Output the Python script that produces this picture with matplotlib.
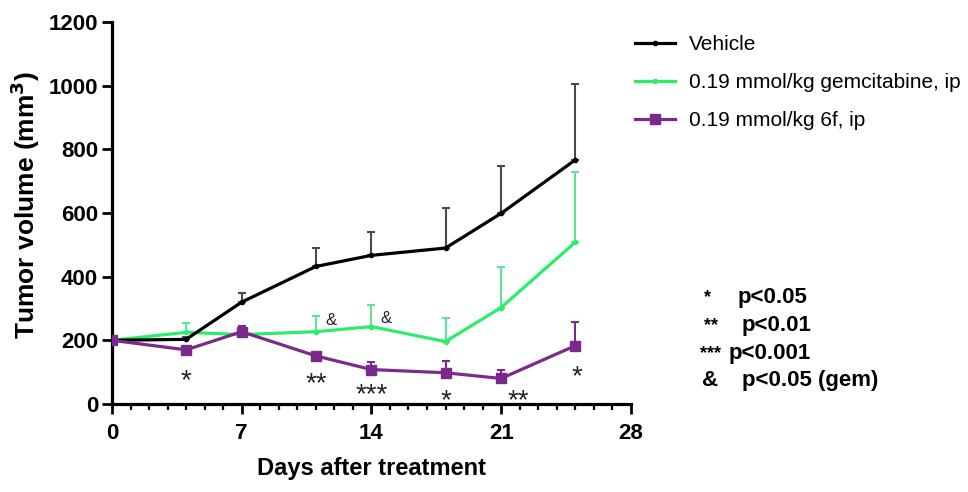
import numpy as np
import matplotlib.pyplot as plt
from matplotlib.ticker import MultipleLocator
from matplotlib.lines import Line2D

plt.rcParams["font.family"] = ["Liberation Sans", "DejaVu Sans"]

# 數據
days = [0, 4, 7, 11, 14, 18, 21, 25]
vehicle = [200, 203, 320, 432, 467, 490, 599, 767]
vehicle_err = [0, 8, 30, 58, 74, 125, 150, 237]
gem = [200, 225, 218, 227, 243, 196, 303, 508]
gem_err = [0, 30, 20, 50, 69, 75, 126, 222]
f6 = [200, 170, 227, 151, 108, 98, 80, 183]
f6_err = [0, 8, 18, 10, 25, 38, 27, 73]

series_labels = ["Vehicle", "0.19 mmol/kg gemcitabine, ip", "0.19 mmol/kg 6f, ip"]
series_colors = ["black", "#2aee6a", "#7b2a8c"]
err_colors = ["#4a4a4a", "#5fe39a", "#7b2a8c"]

# 顯著性標記 (視覺中心位置)
star_x = [4, 11, 14, 18, 21.9, 25.1]
star_y = [98, 89, 52, 35, 35, 111]
star_txt = ["*", "**", "***", "*", "**", "*"]
amp_x = [11.8, 14.8]
amp_y = [262, 268]

sig_marks = ["*", "**", "***", "&"]
sig_texts = ["p<0.05", "p<0.01", "p<0.001", "p<0.05 (gem)"]

fig = plt.figure(figsize=(9.68, 4.92), dpi=100)
ax = fig.add_axes([0.1157, 0.179, 0.536, 0.776])

zeros = np.zeros(len(days))
ax.errorbar(days, vehicle, yerr=[zeros, vehicle_err], color=series_colors[0],
            marker="o", markersize=3, linewidth=2.3, capsize=3, elinewidth=1.5,
            capthick=1.5, ecolor=err_colors[0], zorder=3)
ax.errorbar(days, gem, yerr=[zeros, gem_err], color=series_colors[1],
            marker="o", markersize=3, linewidth=2.3, capsize=3, elinewidth=1.5,
            capthick=1.5, ecolor=err_colors[1], zorder=2)
ax.errorbar(days, f6, yerr=[zeros, f6_err], color=series_colors[2],
            marker="s", markersize=7, linewidth=2.3, capsize=3, elinewidth=1.5,
            capthick=1.5, ecolor=err_colors[2], zorder=4)

# 星號: 位置為字形中心, 以 baseline 向下偏移
for x, y, t in zip(star_x, star_y, star_txt):
    ax.annotate(t, (x, y), xytext=(0, -11), textcoords="offset points",
                ha="center", va="baseline", fontsize=20, color="#222222",
                annotation_clip=False)
for x, y in zip(amp_x, amp_y):
    ax.text(x, y, "&", ha="center", va="center", fontsize=12, color="#222222")

ax.set_xlim(0, 28)
ax.set_ylim(0, 1200)
ax.xaxis.set_major_locator(MultipleLocator(7))
ax.xaxis.set_minor_locator(MultipleLocator(1))
ax.yaxis.set_major_locator(MultipleLocator(200))
ax.spines["top"].set_visible(False)
ax.spines["right"].set_visible(False)
ax.spines["left"].set_linewidth(2.3)
ax.spines["bottom"].set_linewidth(2.3)
ax.tick_params(axis="y", which="major", width=2, length=7, pad=3)
ax.tick_params(axis="x", which="major", width=2, length=7, pad=7)
ax.tick_params(axis="x", which="minor", width=1.6, length=4)
for lab in ax.get_xticklabels() + ax.get_yticklabels():
    lab.set_fontsize(16)
    lab.set_fontweight("bold")

ax.set_xlabel("Days after treatment", fontsize=17, fontweight="bold", labelpad=9)
ax.set_ylabel("Tumor volume (mm$^\\mathbf{3}$)", fontsize=19, fontweight="bold")
ax.yaxis.set_label_coords(-0.135, 0.52)

handles = [
    Line2D([], [], color=series_colors[0], marker="o", markersize=3, linewidth=2.3),
    Line2D([], [], color=series_colors[1], marker="o", markersize=3, linewidth=2.3),
    Line2D([], [], color=series_colors[2], marker="s", markersize=7, linewidth=2.3),
]
fig.legend(handles, series_labels, loc="upper left", bbox_to_anchor=(0.656, 0.928),
           frameon=False, fontsize=15, handlelength=1.9, handletextpad=0.7,
           labelspacing=0.9, borderpad=0, borderaxespad=0)

sig_y = [0.395, 0.339, 0.281, 0.226]
mark_x = [0.727, 0.727, 0.723, 0.725]
text_x = [0.762, 0.766, 0.753, 0.767]
for i in range(len(sig_marks)):
    fig.text(mark_x[i], sig_y[i], sig_marks[i], fontsize=13 if i < 3 else 16,
             fontweight="bold", va="center")
    fig.text(text_x[i], sig_y[i], sig_texts[i], fontsize=16, fontweight="bold", va="center")

fig.savefig("out.png", dpi=100)
